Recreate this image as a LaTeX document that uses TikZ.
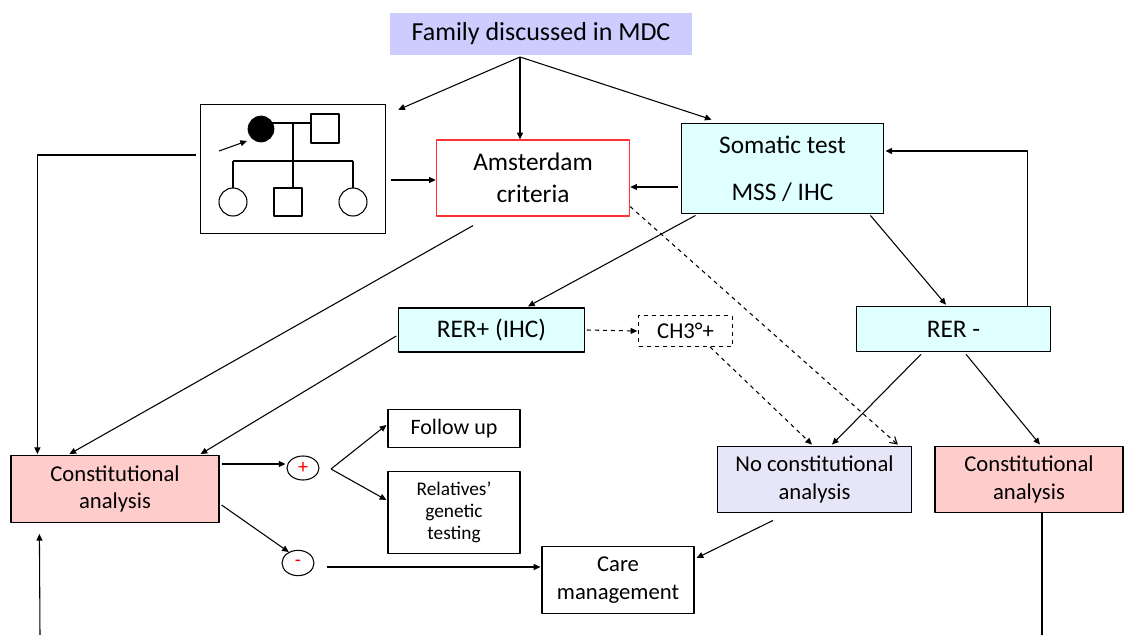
\documentclass[tikz,border=0pt]{standalone}
\usepackage{fontspec}
\setmainfont{Carlito}
\usetikzlibrary{arrows.meta,calc,shapes.geometric}
\definecolor{lilac}{HTML}{CCCCFF}
\definecolor{paleblue}{HTML}{E6E6F8}
\definecolor{palecyan}{HTML}{E0FFFF}
\definecolor{palepink}{HTML}{FFCCCC}
\definecolor{boxred}{HTML}{FF3333}
\tikzset{
  box/.style={draw, line width=0.9pt, align=center, inner sep=0pt},
  bigtxt/.style={font=\fontsize{19}{24}\selectfont},
  midtxt/.style={font=\fontsize{17}{21}\selectfont},
  arr/.style={-{Triangle[length=5pt,width=4.5pt]}, line width=0.8pt},
  darr/.style={-{Triangle[length=5pt,width=4.5pt]}, line width=0.8pt, dashed},
  oarr/.style={-{Straight Barb[length=5pt,width=6pt]}, line width=0.8pt, dashed},
  sign/.style={draw, ellipse, line width=0.8pt, inner sep=0pt, text=red, font=\fontsize{15}{15}\selectfont}
}
\begin{document}
\begin{tikzpicture}[x=0.75pt, y=-0.75pt, line join=round]
\useasboundingbox (0,0) rectangle (1124,635);
% top
\node[box, draw=none, fill=lilac, font=\fontsize{19.5}{24}\selectfont, minimum width=227pt, minimum height=31pt] (mdc) at (541,34) {Family discussed in MDC};
% pedigree
\node[box, minimum width=139pt, minimum height=97pt] (ped) at (293,169) {};
\draw[line width=0.8pt] (261,123)--(325,123) (293,123)--(293,188) (233,161)--(353,161) (233,161)--(233,188) (353,161)--(353,188);
\fill (261,129) circle (10pt);
\draw[line width=0.8pt, fill=white] (311,114) rectangle (339,143) (274,188) rectangle (302,216);
\draw[line width=0.8pt, fill=white] (233,202) circle (10.5pt) (353,202) circle (10.5pt);
\draw[arr] (219,151)--(247,141);
% boxes
\node[box, draw=boxred, bigtxt, minimum width=145pt, minimum height=57pt] (ams) at (533,178) {Amsterdam\\criteria};
\node[box, fill=palecyan, bigtxt, minimum width=152pt, minimum height=68pt] (som) at (782.5,168.5) {Somatic test\\[11pt]MSS / IHC};
\node[box, fill=palecyan, bigtxt, minimum width=139pt, minimum height=33pt] (rerp) at (491.5,330) {RER+ (IHC)};
\node[box, dashed, midtxt, minimum width=70pt, minimum height=23pt] (ch3) at (685.5,331) {CH3°+};
\node[box, fill=palecyan, bigtxt, minimum width=145pt, minimum height=34pt] (rerm) at (953.5,329) {RER -};
\node[box, fill=palepink, font=\fontsize{17}{20}\selectfont, minimum width=156pt, minimum height=50pt] (cal) at (115,489) {Constitutional\\analysis};
\node[sign, minimum width=24pt, minimum height=18pt] (plus) at (303,468) {+};
\node[sign, minimum width=24pt, minimum height=19pt] (minus) at (298,563) {-};
\node[box, font=\fontsize{16.5}{20}\selectfont, minimum width=99pt, minimum height=29pt] (fol) at (454,428.5) {Follow up};
\node[box, font=\fontsize{14.5}{16.5}\selectfont, minimum width=99pt, minimum height=62pt] (rel) at (454,512.5) {Relatives’\\genetic\\testing};
\node[box, fill=paleblue, midtxt, minimum width=145pt, minimum height=50pt] (nca) at (814.5,479.5) {No constitutional\\analysis};
\node[box, fill=palepink, midtxt, minimum width=141pt, minimum height=50pt] (car) at (1029,479.5) {Constitutional\\analysis};
\node[box, midtxt, minimum width=114pt, minimum height=50pt] (care) at (618,580) {Care\\management};
% free ends
\coordinate (fork) at (520,57);
\coordinate (brk) at (331,469);
\coordinate (outL) at (40,635);
\coordinate (outR) at (1042,635);
% connectors
\draw[arr] (fork) -- ($(ped.north east)+(12,6)$);
\draw[arr] (fork) -- (fork |- ams.north);
\draw[arr] (fork) -- ($(som.north west)+(31,-3)$);
\draw[arr] ($(ped.west)+(-4,-14)$) -| ($(cal.north west)+(27,-1)$);
\draw[arr] ($(ped.east)+(5,11)$) -- ($(ams.west)+(0,2)$);
\draw[arr] ($(som.west)+(-3,18.5)$) -- ($(ams.east)+(0,9)$);
\draw[oarr] ($(ams.south east)+(0,-10)$) -- ($(nca.north east)+(-14,-1)$);
\draw[arr] ($(ams.south)+(-60,9)$) -- ($(cal.north west)+(59,-1)$);
\draw[arr] ($(som.south west)+(15,1)$) -- ($(rerp.north)+(36.5,-1)$);
\draw[arr] ($(som.south east)+(-14,1)$) -- ($(rerm.north)+(-7.5,-1)$);
\draw[arr] ($(rerm.north east)+(-23,0)$) |- ($(som.east)+(1,-17.5)$);
\draw[arr] ($(rerp.west)+(-2,6)$) -- ($(cal.north east)+(-19,-1)$);
\draw[darr] ($(rerp.east)+(2,0)$) -- ($(ch3.west)+(-1,0)$);
\draw[darr] ($(ch3.south)+(24.5,0)$) -- ($(nca.north)+(-2.5,-1)$);
\draw[arr] ($(rerm.south)+(-32.5,2)$) -- ($(nca.north)+(17.5,-1)$);
\draw[arr] ($(rerm.south)+(12.5,2)$) -- ($(car.north)+(11,-1)$);
\draw[line width=0.8pt] ($(car.south)+(13,0)$) -- (outR);
\draw[arr] (outL) -- ($(cal.south west)+(29,11)$);
\draw[arr] ($(cal.east)+(2,-25)$) -- ($(plus.west)+(-1,-4)$);
\draw[arr] ($(cal.east)+(2,16)$) -- (minus.130);
\draw[arr] (brk) -- ($(fol.west)+(-1,-3.5)$);
\draw[arr] (brk) -- ($(rel.west)+(-1,-12.5)$);
\draw[arr] ($(minus.east)+(12,4)$) -- ($(care.west)+(-1,-13)$);
\draw[arr] ($(nca.south)+(-41.5,7)$) -- ($(care.east)+(2,-22)$);
\end{tikzpicture}
\end{document}
